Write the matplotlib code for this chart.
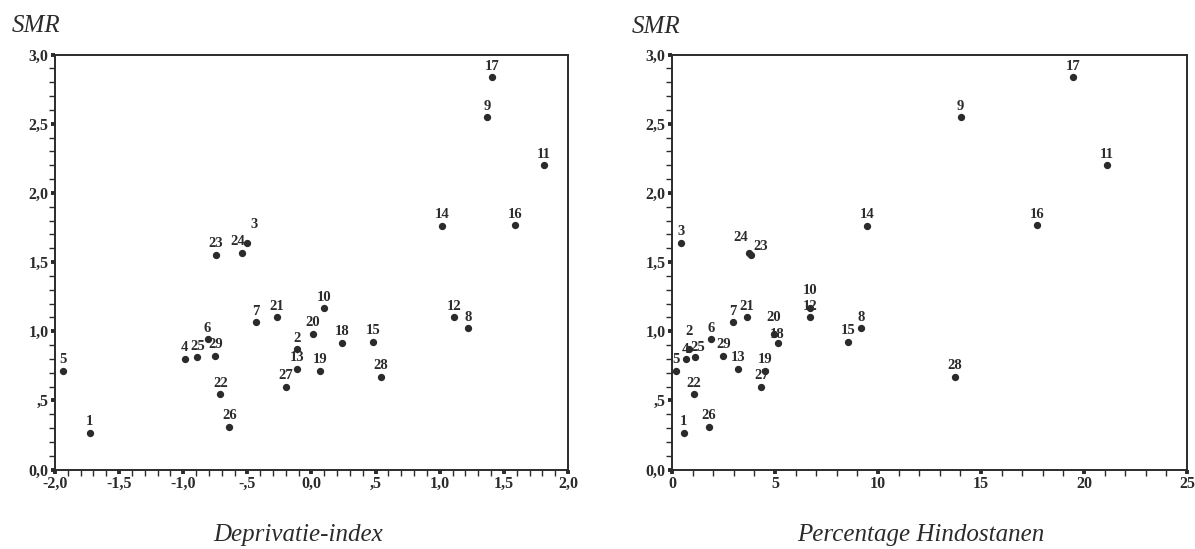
import matplotlib
matplotlib.use("Agg")
import matplotlib.pyplot as plt
from matplotlib.ticker import MultipleLocator, FixedLocator

plt.rcParams['font.family'] = ['Liberation Serif', 'DejaVu Serif']

# gemeente nummers, deprivatie-index, percentage Hindostanen, SMR
ids = [1, 2, 3, 4, 5, 6, 7, 8, 9, 10, 11, 12, 13, 14, 15,
       16, 17, 18, 19, 20, 21, 22, 23, 24, 25, 26, 27, 28, 29]
depriv = [-1.73, -0.11, -0.50, -0.99, -1.94, -0.81, -0.435, 1.22, 1.37, 0.10,
          1.815, 1.11, -0.11, 1.02, 0.48, 1.59, 1.41, 0.24, 0.07, 0.01,
          -0.27, -0.71, -0.745, -0.545, -0.89, -0.64, -0.20, 0.54, -0.75]
hindo = [0.57, 0.81, 0.44, 0.70, 0.18, 1.88, 2.94, 9.19, 14.01, 6.71,
         21.10, 6.71, 3.20, 9.49, 8.53, 17.70, 19.49, 5.13, 4.52, 4.96,
         3.64, 1.07, 3.82, 3.75, 1.14, 1.80, 4.34, 13.73, 2.50]
smr = [0.265, 0.87, 1.64, 0.80, 0.715, 0.94, 1.065, 1.02, 2.545, 1.165,
       2.20, 1.10, 0.73, 1.76, 0.925, 1.765, 2.835, 0.915, 0.713, 0.98,
       1.10, 0.545, 1.55, 1.567, 0.81, 0.308, 0.60, 0.672, 0.82]

y_ticks = [0.0, 0.5, 1.0, 1.5, 2.0, 2.5, 3.0]
y_labels = ["0,0", ",5", "1,0", "1,5", "2,0", "2,5", "3,0"]
dep_ticks = [-2.0, -1.5, -1.0, -0.5, 0.0, 0.5, 1.0, 1.5, 2.0]
dep_labels = ["-2,0", "-1,5", "-1,0", "-,5", "0,0", ",5", "1,0", "1,5", "2,0"]
hin_ticks = [0, 5, 10, 15, 20, 25]
hin_labels = ["0", "5", "10", "15", "20", "25"]

ink = "#2b2b2b"

# small nudges for labels that sit on top of each other
nudge_left = {3: (5, 5), 24: (-3, 0)}
nudge_right = {10: (0, 5), 24: (-6, 3), 23: (7, -2), 20: (0, 4), 18: (0, -2),
               2: (0, 5), 4: (-1, -1), 25: (2, -1)}

fig = plt.figure(figsize=(11.95, 5.49), dpi=100)
ax1 = fig.add_axes([0.0460, 0.1448, 0.4293, 0.7559])
ax2 = fig.add_axes([0.5623, 0.1448, 0.4310, 0.7559])


def style_axes(ax, xvals, xticks, xlabels, xminor, xlim, nudges):
    ax.scatter(xvals, smr, s=18, color=ink, zorder=3, clip_on=False)
    for i, x, y in zip(ids, xvals, smr):
        dx, dy = nudges.get(i, (0, 0))
        ax.annotate(str(i), (x, y), xytext=(dx, 8 + dy), textcoords="offset points",
                    ha="center", va="center", fontsize=10.5, fontweight="bold", color=ink)
    ax.set_xlim(*xlim)
    ax.set_ylim(0, 3.0)
    ax.xaxis.set_major_locator(FixedLocator(xticks))
    ax.set_xticklabels(xlabels)
    ax.xaxis.set_minor_locator(MultipleLocator(xminor))
    ax.yaxis.set_major_locator(FixedLocator(y_ticks))
    ax.set_yticklabels(y_labels)
    ax.yaxis.set_minor_locator(MultipleLocator(0.1))
    ax.tick_params(which="major", direction="out", length=3, width=2.8, color=ink,
                   labelsize=11.5, labelcolor=ink, pad=1.5)
    ax.tick_params(which="minor", direction="out", length=4.5, width=1.0, color=ink)
    for lbl in ax.get_xticklabels() + ax.get_yticklabels():
        lbl.set_fontweight("bold")
    for sp in ax.spines.values():
        sp.set_linewidth(1.4)
        sp.set_color(ink)


style_axes(ax1, depriv, dep_ticks, dep_labels, 0.1, (-2.0, 2.0), nudge_left)
style_axes(ax2, hindo, hin_ticks, hin_labels, 1, (0, 25), nudge_right)

fig.text(12 / 1195, 1 - 32 / 549, "SMR", fontsize=18, style="italic", color=ink,
         ha="left", va="baseline")
fig.text(632 / 1195, 1 - 33 / 549, "SMR", fontsize=18, style="italic", color=ink,
         ha="left", va="baseline")
fig.text(298 / 1195, 1 - 535 / 549, "Deprivatie-index", fontsize=18, style="italic",
         color=ink, ha="center", va="center")
fig.text(921 / 1195, 1 - 535 / 549, "Percentage Hindostanen", fontsize=18,
         style="italic", color=ink, ha="center", va="center")

fig.savefig("out.png", dpi=100, facecolor="white")
